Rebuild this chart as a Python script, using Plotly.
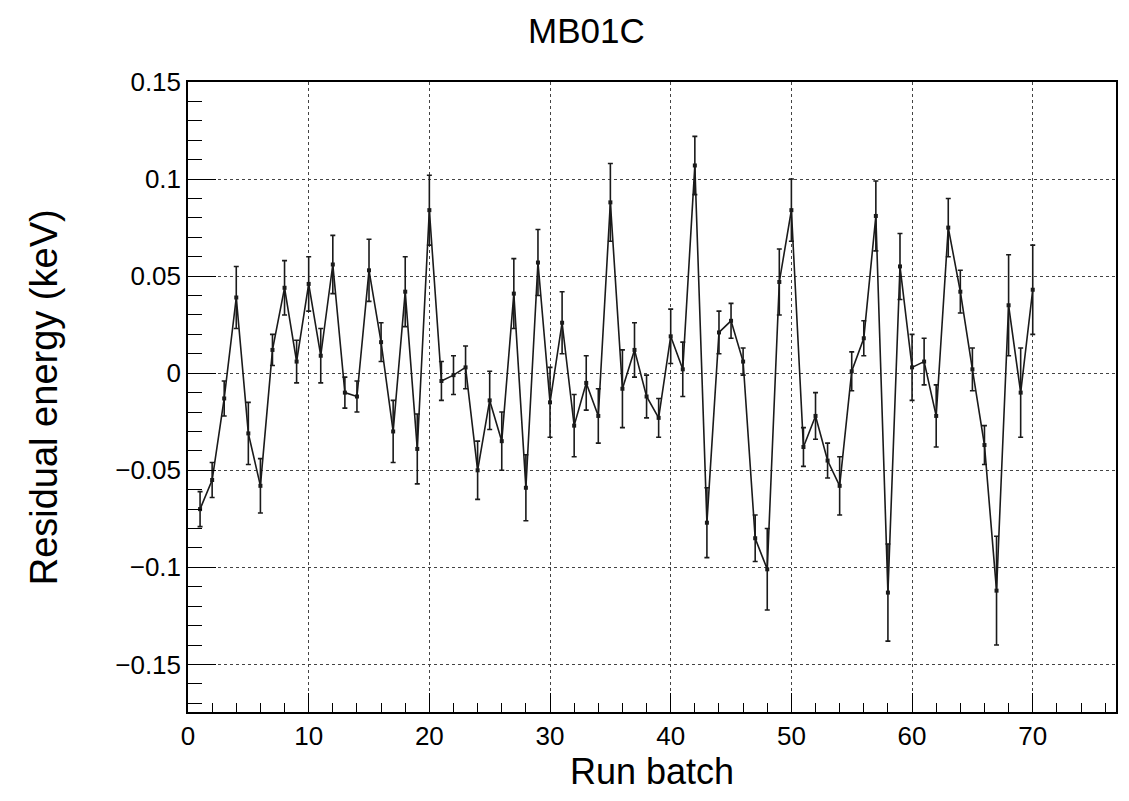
import plotly.graph_objects as go

run_batch = list(range(1, 71))
residual = [
    -0.070, -0.055, -0.013, 0.039, -0.031, -0.058, 0.012, 0.044, 0.006, 0.046,
    0.009, 0.056, -0.010, -0.012, 0.053, 0.016, -0.030, 0.042, -0.039, 0.084,
    -0.004, -0.001, 0.003, -0.050, -0.014, -0.035, 0.041, -0.059, 0.057, -0.015,
    0.026, -0.027, -0.005, -0.022, 0.088, -0.008, 0.012, -0.012, -0.023, 0.019,
    0.002, 0.107, -0.077, 0.021, 0.027, 0.006, -0.085, -0.101, 0.047, 0.084,
    -0.038, -0.022, -0.045, -0.058, 0.001, 0.018, 0.081, -0.113, 0.055, 0.003,
    0.006, -0.022, 0.075, 0.042, 0.002, -0.037, -0.112, 0.035, -0.010, 0.043,
]
residual_err = [
    0.009, 0.009, 0.009, 0.016, 0.016, 0.014, 0.008, 0.014, 0.011, 0.014,
    0.014, 0.015, 0.008, 0.008, 0.016, 0.010, 0.016, 0.018, 0.018, 0.018,
    0.010, 0.010, 0.011, 0.015, 0.015, 0.015, 0.018, 0.017, 0.017, 0.018,
    0.016, 0.016, 0.014, 0.014, 0.020, 0.020, 0.014, 0.011, 0.010, 0.014,
    0.014, 0.015, 0.018, 0.011, 0.009, 0.007, 0.012, 0.021, 0.017, 0.016,
    0.010, 0.012, 0.009, 0.015, 0.010, 0.009, 0.018, 0.025, 0.017, 0.017,
    0.012, 0.016, 0.015, 0.011, 0.011, 0.010, 0.028, 0.026, 0.023, 0.023,
]

x_tickvals = [0, 10, 20, 30, 40, 50, 60, 70]
x_ticktext = ["0", "10", "20", "30", "40", "50", "60", "70"]
y_tickvals = [-0.15, -0.1, -0.05, 0, 0.05, 0.1, 0.15]
y_ticktext = ["\u22120.15", "\u22120.1", "\u22120.05", "0", "0.05", "0.1", "0.15"]

FONT = "Liberation Sans, Arial, Helvetica, sans-serif"

fig = go.Figure()
fig.add_trace(go.Scatter(
    x=run_batch, y=residual,
    mode="lines+markers",
    line=dict(color="#1a1a1a", width=1.6),
    marker=dict(color="#1a1a1a", size=4, symbol="square"),
    error_y=dict(type="data", array=residual_err, visible=True,
                 color="#1a1a1a", thickness=1.6, width=2.5),
    showlegend=False,
))

# page body has an 8px margin; figure sized so the plot frame lands at
# x 188..1118, y 82..712 in the window
fig.update_layout(
    width=1113, height=785,
    margin=dict(l=180, r=3, t=74, b=81),
    paper_bgcolor="white", plot_bgcolor="white",
    font=dict(family=FONT, color="black"),
    xaxis=dict(
        range=[0, 76.9], tickvals=x_tickvals, ticktext=x_ticktext,
        ticks="inside", ticklen=19, tickwidth=1, tickcolor="black",
        showline=True, mirror=True, linecolor="black", linewidth=1.5,
        showgrid=True, gridcolor="#444", griddash="dot", gridwidth=1,
        zeroline=False, tickfont=dict(size=26, family=FONT),
        minor=dict(dtick=2, tick0=0, ticks="inside", ticklen=9, tickcolor="black", showgrid=False),
    ),
    yaxis=dict(
        range=[-0.1745, 0.15], tickvals=y_tickvals, ticktext=y_ticktext,
        ticks="inside", ticklen=28, tickwidth=1, tickcolor="black",
        showline=True, mirror=True, linecolor="black", linewidth=1.5,
        showgrid=True, gridcolor="#444", griddash="dot", gridwidth=1,
        zeroline=False, tickfont=dict(size=26, family=FONT),
        minor=dict(dtick=0.01, tick0=0, ticks="inside", ticklen=14, tickcolor="black", showgrid=False),
    ),
    annotations=[
        dict(text="MB01C", xref="paper", yref="paper", x=(587 - 188) / 930, y=1 + (82 - 30) / 630,
             showarrow=False, font=dict(size=35, family=FONT), xanchor="center", yanchor="middle"),
        dict(text="Run batch", xref="paper", yref="paper", x=0.5, y=-(771 - 712) / 630,
             showarrow=False, font=dict(size=36, family=FONT), xanchor="center", yanchor="middle",
             borderpad=0),
        dict(text="Residual energy (keV)", xref="paper", yref="paper", x=-(188 - 44) / 930,
             y=0.5, textangle=-90,
             showarrow=False, font=dict(size=38, family=FONT), xanchor="center", yanchor="middle"),
    ],
)

fig.write_html("out.html")
